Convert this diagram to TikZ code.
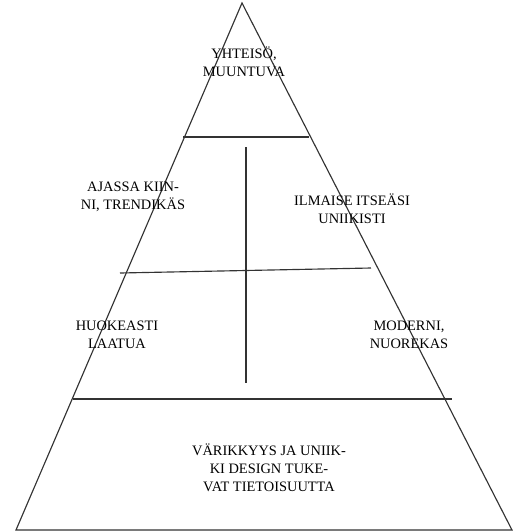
\documentclass[tikz,border=0pt]{standalone}
\usepackage{fontspec}
\setmainfont{Liberation Serif}
\usetikzlibrary{positioning}
\tikzset{
    edgeline/.style={line width=0.65pt,black!80},
    label/.style={align=center,inner sep=1pt,font=\fontsize{8.2}{10.3}\selectfont}
}

\begin{document}
\begin{tikzpicture}[x=0.02cm,y=-0.02cm]
                \useasboundingbox (0,0) rectangle (512,532);
                \coordinate (apex) at (242,3);
                \coordinate (bl) at (16,530);
                \coordinate (br) at (512,530);
                \draw[edgeline] (apex) -- (bl) -- (br) -- cycle;
                \coordinate (a1) at (183,137);
                \coordinate (b1) at (309,137);
                \coordinate (a2) at (120,273);
                \coordinate (b2) at (371,268);
                \coordinate (a3) at (73,399);
                \coordinate (b3) at (452,399);
                \coordinate (vtop) at (246,147);
                \coordinate (vbot) at (246,383);
                \draw[edgeline] (a1) -- (b1);
                \draw[edgeline] (a2) -- (b2);
                \draw[edgeline] (a3) -- (b3);
                \draw[edgeline] (vtop) -- (vbot);
                \node[label] (top) at (244,62) {YHTEISÖ,\\MUUNTUVA};
                \node[label] (trend) at (133,197) {AJASSA KIIN-\\NI, TRENDIKÄS};
                \node[label] (unique) at (352,209) {ILMAISE ITSEÄSI\\UNIIKISTI};
                \node[label] (cheap) at (117,335) {HUOKEASTI\\LAATUA};
                \node[label] (modern) at (409,335) {MODERNI,\\NUOREKAS};
                \node[label] (base) at (269,468) {VÄRIKKYYS JA UNIIK-\\KI DESIGN TUKE-\\VAT TIETOISUUTTA};
            \end{tikzpicture}
\end{document}
